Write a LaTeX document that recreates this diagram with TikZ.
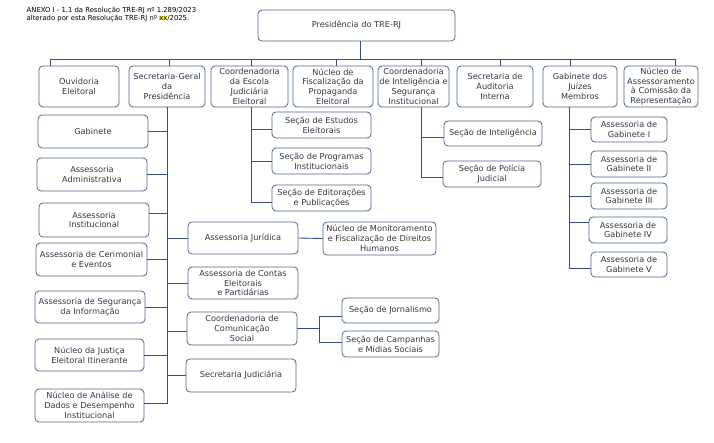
\documentclass[tikz,border=0pt]{standalone}
\usepackage{fontspec}
\setmainfont{DejaVu Sans}
\usetikzlibrary{calc}
\definecolor{boxc}{RGB}{78,98,140}
\definecolor{linec}{RGB}{52,80,130}
\definecolor{txtc}{RGB}{55,55,60}
\newcommand{\mybox}[6]{%
  \pgfmathsetmacro\bw{#4-#2}\pgfmathsetmacro\bh{#5-#3}%
  \pgfmathsetmacro\cx{(#2+#4)/2}\pgfmathsetmacro\cy{-(#3+#5)/2}%
  \node[box, minimum width=\bw pt, minimum height=\bh pt] (#1) at (\cx pt,\cy pt) {#6};}
\tikzset{
  box/.style={draw=boxc, rounded corners=4pt, line width=0.8pt, align=center, inner sep=0pt,
    font=\fontsize{8.2}{9.8}\selectfont, text=txtc},
  conn/.style={draw=linec, line width=0.9pt},
  hdr/.style={anchor=north west, align=left, inner sep=0pt, font=\fontsize{6.85}{8}\selectfont, text=black}
}
\begin{document}
\begin{tikzpicture}
\useasboundingbox (0,0) rectangle (714pt,-443pt);
\node[hdr] (head) at (26.5pt,-6.5pt) {ANEXO I - 1.1 da Resolução TRE-RJ nº 1.289/2023\\alterado por esta Resolução TRE-RJ nº {\fboxsep=0pt\colorbox{yellow}{xx}}/2025.};
% top
\mybox{pres}{258}{10}{455}{41}{Presidência do TRE-RJ}
\mybox{ouv}{39}{66}{119}{107}{Ouvidoria\\Eleitoral}
\mybox{sg}{129}{66}{205}{107}{Secretaria-Geral\\da\\Presidência}
\mybox{esc}{211}{66}{288}{107}{Coordenadoria\\da Escola\\Judiciária\\Eleitoral}
\mybox{fis}{293}{66}{373}{107}{Núcleo de\\Fiscalização da\\Propaganda\\Eleitoral}
\mybox{int}{378}{66}{449}{107}{Coordenadoria\\de Inteligência e\\Segurança\\Institucional}
\mybox{aud}{457}{66}{533}{107}{Secretaria de\\Auditoria\\Interna}
\mybox{gjm}{543}{66}{617}{107}{Gabinete dos\\Juízes\\Membros}
\mybox{nac}{624}{66}{698}{107}{Núcleo de\\Assessoramento\\à Comissão da\\Representação}
% left column
\mybox{gab}{38}{115}{148}{148}{Gabinete}
\mybox{adm}{37}{158}{147}{191}{Assessoria\\Administrativa}
\mybox{ins}{39}{203}{149}{237}{Assessoria\\Institucional}
\mybox{cer}{36}{243}{147}{276}{Assessoria de Cerimonial\\e Eventos}
\mybox{seg}{35}{291}{145}{323}{Assessoria de Segurança\\da Informação}
\mybox{nji}{35}{339}{144}{371}{Núcleo da Justiça\\Eleitoral Itinerante}
\mybox{nad}{35}{389}{144}{422}{Núcleo de Análise de\\Dados e Desempenho\\Institucional}
% middle
\mybox{jur}{188}{222}{298}{254}{Assessoria Jurídica}
\mybox{mon}{323}{222}{436}{255}{Núcleo de Monitoramento\\e Fiscalização de Direitos\\Humanos}
\mybox{con}{188}{267}{298}{299}{Assessoria de Contas\\Eleitorais\\e Partidárias}
\mybox{com}{187}{312}{297}{345}{Coordenadoria de\\Comunicação\\Social}
\mybox{sju}{186}{359}{296}{392}{Secretaria Judiciária}
\mybox{jor}{342}{298}{439}{323}{Seção de Jornalismo}
\mybox{cam}{342}{331}{439}{357}{Seção de Campanhas\\e Mídias Sociais}
% escola children
\mybox{est}{272}{112}{371}{138}{Seção de Estudos\\Eleitorais}
\mybox{spr}{272}{148}{371}{174}{Seção de Programas\\Institucionais}
\mybox{sed}{272}{185}{371}{211}{Seção de Editorações\\e Publicações}
% inteligencia children
\mybox{sin}{444}{121}{542}{146}{Seção de Inteligência}
\mybox{spj}{443}{161}{541}{187}{Seção de Polícia\\Judicial}
% gabinete children
\mybox{ga}{591}{117}{667}{142}{Assessoria de\\Gabinete I}
\mybox{gb}{591}{151}{667}{177}{Assessoria de\\Gabinete II}
\mybox{gc}{591}{183}{667}{209}{Assessoria de\\Gabinete III}
\mybox{gd}{589}{217}{667}{243}{Assessoria de\\Gabinete IV}
\mybox{ge}{591}{252}{667}{277}{Assessoria de\\Gabinete V}
% bus
\path ([xshift=3.5pt]pres.south) ++(0,-18pt) coordinate (bus);
\draw[conn] ([xshift=3.5pt]pres.south) -- (bus);
\draw[conn] ([xshift=12pt]ouv.north west) |- (bus);
\draw[conn] ([xshift=41pt]sg.north west) |- (bus);
\draw[conn] ([xshift=41pt]esc.north west) |- (bus);
\draw[conn] ([xshift=44pt]fis.north west) |- (bus);
\draw[conn] ([xshift=44pt]int.north west) |- (bus);
\draw[conn] ([xshift=44pt]aud.north west) |- (bus);
\draw[conn] ([xshift=28pt]gjm.north west) |- (bus);
\draw[conn] ([xshift=52pt]nac.north west) |- (bus);
% secretaria-geral spine
\draw[conn] (gab.east) -| (sg.south);
\draw[conn] (adm.east) -| (sg.south);
\draw[conn] ([yshift=7pt]ins.east) -| (sg.south);
\draw[conn] (cer.east) -| (sg.south);
\draw[conn] (seg.east) -| (sg.south);
\draw[conn] (nji.east) -| (sg.south);
\draw[conn] ([yshift=2.5pt]nad.east) -| (sg.south);
\draw[conn] (jur.west) -| (sg.south);
\draw[conn] (con.west) -| (sg.south);
\draw[conn] ([yshift=-2.5pt]com.west) -| (sg.south);
\draw[conn] (sju.west) -| (sg.south);
\draw[conn] (jur.east) -- (mon.west);
\draw[conn] (com.east) -- ++(22pt,0) coordinate (comj);
\draw[conn] ([yshift=-5.5pt]jor.west) -| (comj);
\draw[conn] ([yshift=2pt]cam.west) -| (comj);
% escola spine
\draw[conn] ([yshift=-4pt]est.west) -| ([xshift=1.5pt]esc.south);
\draw[conn] (spr.west) -| ([xshift=1.5pt]esc.south);
\draw[conn] ([yshift=-4pt]sed.west) -| ([xshift=1.5pt]esc.south);
% inteligencia spine
\draw[conn] ([yshift=-3.5pt]sin.west) -| ([xshift=8pt]int.south);
\draw[conn] ([yshift=-3pt]spj.west) -| ([xshift=8pt]int.south);
% gabinete spine
\draw[conn] (ga.west) -| ([xshift=-11pt]gjm.south);
\draw[conn] (gb.west) -| ([xshift=-11pt]gjm.south);
\draw[conn] (gc.west) -| ([xshift=-11pt]gjm.south);
\draw[conn] ([yshift=8pt]gd.west) -| ([xshift=-11pt]gjm.south);
\draw[conn] ([yshift=-3.5pt]ge.west) -| ([xshift=-11pt]gjm.south);
\end{tikzpicture}
\end{document}
